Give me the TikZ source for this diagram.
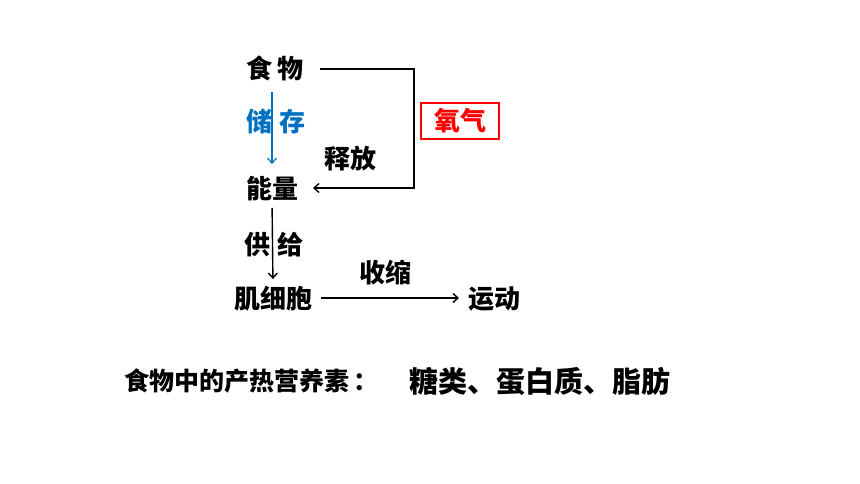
\documentclass[tikz,border=0pt]{standalone}
\usepackage{fontspec}
\usepackage{xcolor}
\usepackage{tikz}
\usetikzlibrary{arrows.meta}
\newfontfamily\cjk{Noto Sans CJK SC}
\definecolor{storeblue}{RGB}{0,112,192}
\definecolor{oxred}{RGB}{255,0,0}

\tikzset{
	word/.style={inner sep=0pt, outer sep=0pt, text height=22pt, text depth=2pt,
		font=\cjk\bfseries\fontsize{26}{26}\selectfont},
	link/.style={line width=1.4pt, -{Straight Barb[length=5pt,width=9pt]}}
}

\begin{document}
\begin{tikzpicture}[x=1pt, y=-1pt]
	\useasboundingbox (0,0) rectangle (860,484);

	\path (275,69) node[word] (food) {食\hspace{6pt}物};
	\path (276,122) node[word, text=storeblue] (store) {储\hspace{8pt}存};
	\path (272,188) node[word] (energy) {能量};
	\path (350,159) node[word] (release) {释放};
	\path (460,121) node[word, text=oxred, draw=oxred, line width=1.8pt,
		minimum width=78pt, minimum height=36pt] (oxygen) {氧气};
	\path (274,244) node[word] (supply) {供\hspace{8pt}给};
	\path (273,298) node[word] (muscle) {肌细胞};
	\path (385,272) node[word] (contract) {收缩};
	\path (494,298) node[word] (motion) {运动};
	\coordinate (turn) at (414,69);

	\draw[link, draw=storeblue, line width=1.2pt, shorten <=11pt, shorten >=12pt] (food.south -| energy.north) -- (energy.north);
	\draw[link, shorten <=16pt, shorten >=15pt] (food) -- (turn) |- (energy);
	\draw[link, shorten <=8pt, shorten >=7pt] (energy.south) -- (muscle.north);
	\draw[link, shorten <=9pt, shorten >=9pt] (muscle) -- (motion);

	\path (124,381) node[word, anchor=west, text height=21pt, text depth=2pt,
		font=\cjk\bfseries\fontsize{25}{25}\selectfont] (heatlabel) {食物中的产热营养素\hspace{4pt}：};
	\path (409,381) node[word, anchor=west, text height=25pt, text depth=2pt,
		font=\cjk\bfseries\fontsize{29}{29}\selectfont] (nutrients) {糖类、蛋白质、脂肪};
\end{tikzpicture}
\end{document}
